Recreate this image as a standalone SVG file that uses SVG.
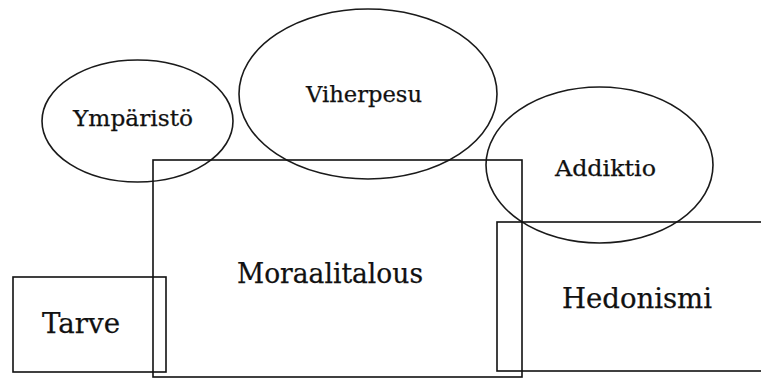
<svg xmlns="http://www.w3.org/2000/svg" width="761" height="378" viewBox="0 0 761 378">
<style>
.s{fill:none;stroke:#111;stroke-width:1.6}
.e{fill:none;stroke:#1a1a1a;stroke-width:1.6}
.t{font-family:"DejaVu Serif","Liberation Serif",serif;fill:#111;stroke:#111;stroke-width:0.25;text-anchor:middle}
</style>
<rect width="761" height="378" fill="#fff"/>
<g id="ymparisto">
<ellipse class="e" cx="137.5" cy="121" rx="95.5" ry="61"/>
<text class="t" x="133" y="126" font-size="22.5" textLength="120" lengthAdjust="spacingAndGlyphs">Ympäristö</text>
</g>
<g id="viherpesu">
<ellipse class="e" cx="368" cy="94" rx="129" ry="85"/>
<text class="t" x="364" y="102" font-size="22.5" textLength="116" lengthAdjust="spacingAndGlyphs">Viherpesu</text>
</g>
<g id="addiktio">
<ellipse class="e" cx="599.5" cy="165" rx="113.5" ry="78"/>
<text class="t" x="605.5" y="176" font-size="22.5" textLength="101" lengthAdjust="spacingAndGlyphs">Addiktio</text>
</g>
<g id="moraalitalous">
<rect class="s" x="153" y="160" width="369" height="217"/>
<text class="t" x="330" y="283" font-size="27" textLength="186" lengthAdjust="spacingAndGlyphs">Moraalitalous</text>
</g>
<g id="tarve">
<rect class="s" x="13" y="277" width="153" height="95"/>
<text class="t" x="81" y="333" font-size="27" textLength="78" lengthAdjust="spacingAndGlyphs">Tarve</text>
</g>
<g id="hedonismi">
<rect class="s" x="497" y="222" width="290" height="149"/>
<text class="t" x="637" y="308" font-size="27" textLength="150" lengthAdjust="spacingAndGlyphs">Hedonismi</text>
</g>
</svg>
